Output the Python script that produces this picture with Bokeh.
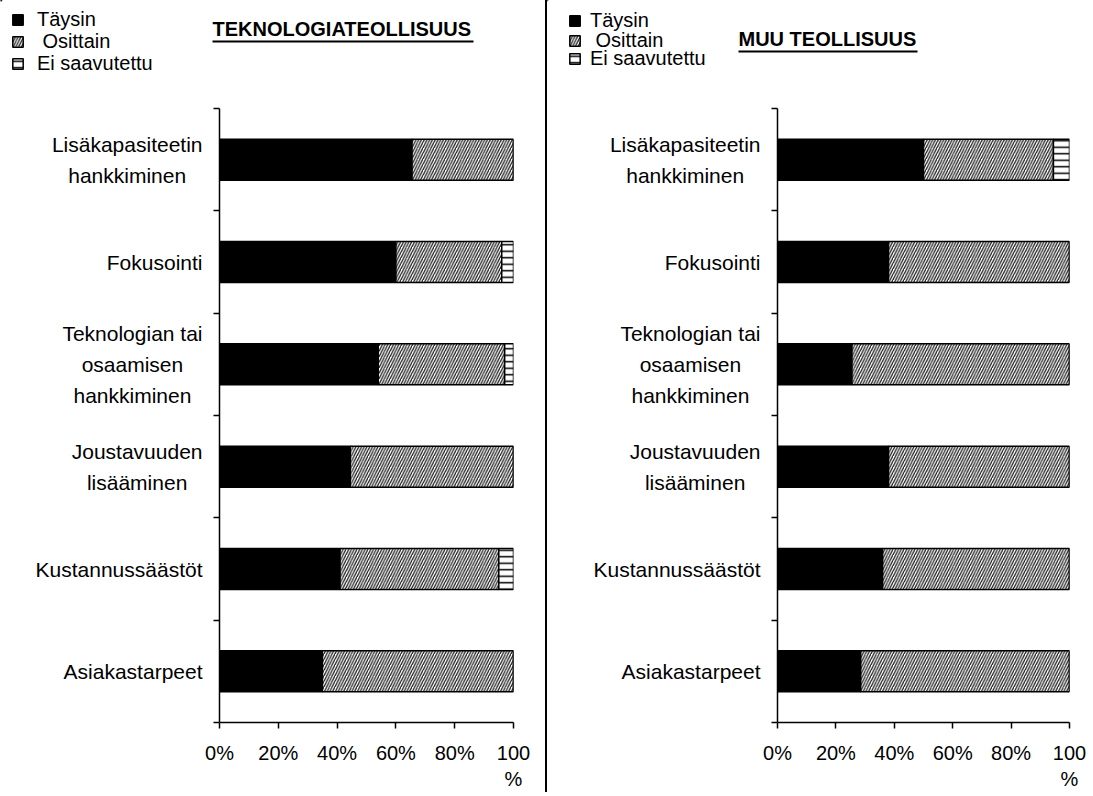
from bokeh.plotting import figure
from bokeh.layouts import row, column
from bokeh.models import (ColumnDataSource, FixedTicker, Label, BoxAnnotation, Range1d, Div,
                          Legend, LegendItem)
from bokeh.core.properties import value
from bokeh.embed import file_html
from bokeh.resources import INLINE

# ---------------- data ----------------
categories = [
    "Lisäkapasiteetin\nhankkiminen",
    "Fokusointi",
    "Teknologian tai\nosaamisen\nhankkiminen",
    "Joustavuuden\nlisääminen",
    "Kustannussäästöt",
    "Asiakastarpeet",
]
series = ["Täysin", " Osittain", "Ei saavutettu"]

tek_taysin = [65.5, 60.0, 54.0, 44.5, 41.0, 35.0]
tek_osittain = [34.5, 36.0, 43.0, 55.5, 54.0, 65.0]
tek_ei = [0.0, 4.0, 3.0, 0.0, 5.0, 0.0]

muu_taysin = [50.0, 38.0, 25.5, 38.0, 36.0, 28.5]
muu_osittain = [44.5, 62.0, 74.5, 62.0, 64.0, 71.5]
muu_ei = [5.5, 0.0, 0.0, 0.0, 0.0, 0.0]

x_ticks = [0, 20, 40, 60, 80, 100]
x_tick_labels = ["0%", "20%", "40%", "60%", "80%", "100\n%"]
titles = ["TEKNOLOGIATEOLLISUUS", "MUU TEOLLISUUS"]

FONT = "Liberation Sans"
FS = "20px"
CAT_FS = "21px"

# ---------------- styles ----------------
FILLS = ["black", "white", "white"]
HATCH = [" ", "/", "-"]
HCOL = ["black", "#1e1e1e", "black"]
HSCALE = [12, 5.5, 6.5]
HWEIGHT = [1, 1.3, 1.5]

TOP_H = 104
MAIN_H = 688
B_TOP = 4
B_BOT = 67


def make_panel(title, taysin, osittain, ei, x0, lab_w, main_w, b_right,
               legend_x, legend_ys, legend_standoff, title_xy, underline):
    n = len(categories)
    ypos = [n - i - 0.5 for i in range(n)]
    yr = Range1d(0, n)

    # ---- header: title + legend ----
    top = figure(width=lab_w + main_w, height=TOP_H, x_range=Range1d(x0, x0 + lab_w + main_w),
                 y_range=Range1d(TOP_H, 0), output_backend="svg", toolbar_location=None,
                 x_axis_location=None, y_axis_location=None, min_border=0)
    top.xgrid.visible = False
    top.ygrid.visible = False
    top.outline_line_color = None
    for k in range(3):
        r = top.hbar(y=[-100], left=[0], right=[1], height=1, fill_color=FILLS[k],
                     line_color="black", line_width=1.5, hatch_pattern=HATCH[k],
                     hatch_color=HCOL[k], hatch_scale=HSCALE[k], hatch_weight=HWEIGHT[k])
        leg = Legend(items=[LegendItem(label=series[k], renderers=[r])],
                     location=(legend_x, legend_ys[k]), padding=0, margin=0, spacing=0,
                     border_line_color=None, background_fill_alpha=0,
                     label_text_font=FONT, label_text_font_size=FS, label_text_color="black",
                     glyph_width=13, glyph_height=13, label_standoff=legend_standoff)
        top.add_layout(leg)
    top.add_layout(Label(x=title_xy[0], y=title_xy[1], text=title, text_font=FONT,
                         text_font_style="bold", text_font_size=FS,
                         text_baseline="middle", text_color="black"))
    top.add_layout(BoxAnnotation(left=underline[0], right=underline[1],
                                 top=underline[2], bottom=underline[2] + 2,
                                 fill_color="black", fill_alpha=1, line_color=None))

    # ---- category labels ----
    lab = figure(width=lab_w, height=MAIN_H, x_range=Range1d(0, lab_w), y_range=yr,
                 output_backend="svg", toolbar_location=None,
                 x_axis_location=None, y_axis_location=None, min_border=0,
                 min_border_top=B_TOP, min_border_bottom=B_BOT)
    lab.xgrid.visible = False
    lab.ygrid.visible = False
    lab.outline_line_color = None
    lsrc = ColumnDataSource(dict(x=[lab_w - 1] * n, y=ypos, text=categories))
    lab.text(x="x", y="y", text="text", source=lsrc, anchor="center_right",
             text_align="center", text_baseline="middle", text_font=value(FONT),
             text_font_size=CAT_FS, text_color="black", text_line_height=1.35)

    # ---- bars ----
    src = ColumnDataSource(dict(y=ypos, t=taysin, o=osittain, e=ei))
    p = figure(width=main_w, height=MAIN_H, x_range=Range1d(0, 100), y_range=yr,
               output_backend="svg", toolbar_location=None, min_border_left=16,
               min_border_right=b_right, min_border_top=B_TOP, min_border_bottom=B_BOT)
    p.hbar_stack(["t", "o", "e"], y="y", height=0.4, source=src,
                 fill_color=FILLS, line_color="black", line_width=1.5,
                 hatch_pattern=HATCH, hatch_color=HCOL,
                 hatch_scale=HSCALE, hatch_weight=HWEIGHT)
    p.xgrid.visible = False
    p.ygrid.visible = False
    p.outline_line_color = None

    xa = p.xaxis[0]
    xa.ticker = FixedTicker(ticks=x_ticks, minor_ticks=[])
    xa.major_label_overrides = {t: l for t, l in zip(x_ticks, x_tick_labels)}
    xa.major_tick_out = 6
    xa.major_tick_in = 0
    xa.minor_tick_out = 0
    xa.axis_line_width = 1.5
    xa.major_tick_line_width = 1.5
    xa.major_label_standoff = 13
    xa.major_label_text_font = FONT
    xa.major_label_text_font_size = FS
    xa.major_label_text_color = "black"
    xa.axis_line_color = "black"

    ya = p.yaxis[0]
    ya.ticker = FixedTicker(ticks=[], minor_ticks=list(range(n + 1)))
    ya.major_tick_out = 0
    ya.major_tick_in = 0
    ya.minor_tick_out = 6
    ya.minor_tick_in = 0
    ya.minor_tick_line_width = 1.5
    ya.minor_tick_line_color = "black"
    ya.axis_line_width = 1.5
    ya.axis_line_color = "black"

    return column(top, row(lab, p))


left = make_panel(titles[0], tek_taysin, tek_osittain, tek_ei, 0, 203, 342, 32,
                  11, (73.5, 51, 29.5), 13, (212, 28), (212, 473, 40))
right = make_panel(titles[1], muu_taysin, muu_osittain, muu_ei, 547, 214, 330, 22,
                   21, (72.5, 52.5, 34), 9, (738, 38), (738, 917, 50))
sep = Div(width=2, height=TOP_H + MAIN_H, margin=0, styles={"background-color": "black"})

layout = row(left, sep, right)
open("out.html", "w").write(file_html(layout, INLINE))
